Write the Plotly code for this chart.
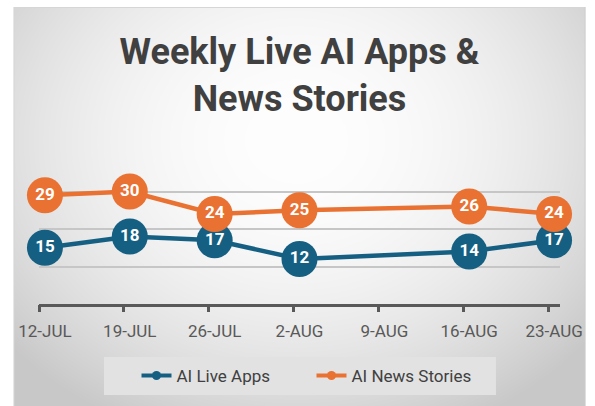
import base64, struct, zlib
import numpy as np
import plotly.graph_objects as go

# ---------------- data ----------------
weeks = ["12-JUL", "19-JUL", "26-JUL", "2-AUG", "9-AUG", "16-AUG", "23-AUG"]
live_apps = [15, 18, 17, 12, None, 14, 17]
news_stories = [29, 30, 24, 25, None, 26, 24]
series_names = ["AI Live Apps", "AI News Stories"]
title_text = "Weekly Live AI Apps &<br>News Stories"

BLUE = "#156082"
ORANGE = "#E97132"
W, H = 595, 406
ML, MR, MT, MB = 39, 27, 154, 102
PW, PH = W - ML - MR, H - MT - MB


# ---------------- background gradient image ----------------
def make_png(arr):
    h, w, _ = arr.shape
    raw = b"".join(b"\x00" + arr[i].tobytes() for i in range(h))

    def chunk(t, d):
        return struct.pack(">I", len(d)) + t + d + struct.pack(">I", zlib.crc32(t + d) & 0xFFFFFFFF)

    return (b"\x89PNG\r\n\x1a\n"
            + chunk(b"IHDR", struct.pack(">IIBBBBB", w, h, 8, 2, 0, 0, 0))
            + chunk(b"IDAT", zlib.compress(raw, 9))
            + chunk(b"IEND", b""))


yy, xx = np.mgrid[0:H, 0:W]
t2 = ((xx - 300) / 340.0) ** 2 + ((yy - 140) / 280.0) ** 2
c = np.clip(254 - 42 * t2, 200, 255)
img = np.stack([c, c, c], -1).astype(np.uint8)
img[:, :13] = 255
img[:7, :] = 255
img[7, 13:] = 214
img[7:, 13] = 214
img[7:, 593] = 205
img[:, 594:] = 255
bg_src = "data:image/png;base64," + base64.b64encode(make_png(img)).decode()

x_idx = list(range(len(weeks)))


def labels(vals):
    return ["" if v is None else str(v) for v in vals]


fig = go.Figure()
for vals, name, col in [(live_apps, series_names[0], BLUE), (news_stories, series_names[1], ORANGE)]:
    fig.add_trace(go.Scatter(
        x=x_idx, y=vals, mode="lines+markers+text", name=name,
        connectgaps=True, showlegend=False, cliponaxis=False,
        line=dict(color=col, width=4.5),
        marker=dict(color=col, size=36, line=dict(width=0)),
        text=labels(vals), textposition="middle center",
        textfont=dict(family="Roboto", size=17, color="white", weight="bold"),
        hoverinfo="skip",
    ))
# legend-only entries with small markers
for name, col in [(series_names[0], BLUE), (series_names[1], ORANGE)]:
    fig.add_trace(go.Scatter(
        x=[None], y=[None], mode="lines+markers", name=name,
        line=dict(color=col, width=4), marker=dict(color=col, size=9),
    ))

# tick marks axis (ticks sit slightly left of the categories in the reference)
fig.add_trace(go.Scatter(x=[None], y=[None], xaxis="x2", showlegend=False))

fig.update_layout(
    width=W, height=H,
    margin=dict(l=ML, r=MR, t=MT, b=MB, pad=0),
    paper_bgcolor="white", plot_bgcolor="rgba(0,0,0,0)",
    font=dict(family="Roboto", color="#595959"),
    title=dict(text=title_text, x=0.5, xref="paper", xanchor="center",
               y=1 - 64 / H, yref="container", yanchor="top",
               font=dict(family="Roboto", size=36, color="#404040", weight="bold")),
    xaxis=dict(range=[-0.07, 6.07], tickvals=x_idx, ticktext=weeks, showgrid=False,
               zeroline=False, showline=True, linecolor="#595959", linewidth=3,
               ticks="", tickfont=dict(size=17, color="#595959"), ticklabelstandoff=10),
    xaxis2=dict(range=[-0.07, 6.07], overlaying="x", side="bottom", anchor="y",
                tickvals=[i - 0.07 for i in x_idx], showticklabels=False,
                ticks="outside", ticklen=7, tickwidth=2.5, tickcolor="#595959",
                showgrid=False, zeroline=False, showline=False),
    yaxis=dict(range=[0, 40], tickvals=[10, 20, 30, 40], showticklabels=False,
               showgrid=True, gridcolor="#c6c6c6", gridwidth=1.5, zeroline=False,
               showline=False, ticks=""),
    legend=dict(orientation="h", x=(138 - ML) / PW, xanchor="left",
                y=1 - (376 - MT) / PH, yanchor="middle",
                bgcolor="rgba(0,0,0,0)", borderwidth=0,
                entrywidth=130, entrywidthmode="pixels",
                font=dict(family="Roboto", size=17, color="#404040")),
    images=[dict(source=bg_src, xref="paper", yref="paper",
                 x=-ML / PW, y=1 + MT / PH, sizex=W / PW, sizey=H / PH,
                 xanchor="left", yanchor="top", sizing="stretch", layer="below")],
    shapes=[dict(type="rect", xref="paper", yref="paper",
                 x0=(105 - ML) / PW, x1=(503 - ML) / PW,
                 y0=1 - (395 - MT) / PH, y1=1 - (357 - MT) / PH,
                 fillcolor="#e2e2e2", line=dict(width=0), layer="above")],
)

fig.write_html("out.html")
